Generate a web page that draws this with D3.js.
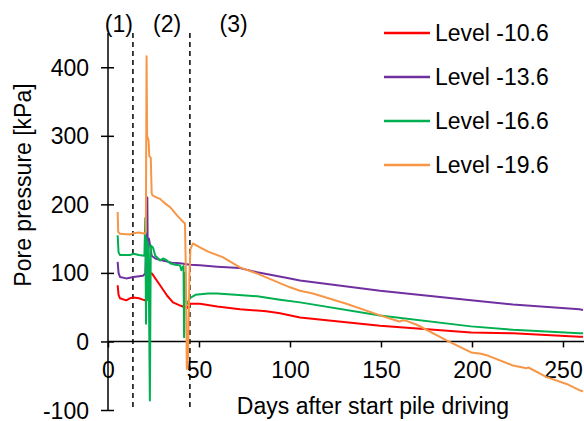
<html>
<head>
<meta charset="utf-8">
<script src='https://d3js.org/d3.v7.min.js'></script>
<style>
  body {margin: 0; background: #fff;}
  text {font-family: 'Liberation Sans', Arial, sans-serif; font-size: 23px; fill: #000;}
</style>
</head>
<body onload='init()'>
<svg width=584 height=421></svg>
<script>

// series: [days, kPa]
var level106 = [[5.3,82],[5.8,68],[6.6,63],[10,60],[12,63],[14,64],[17,63],[20.3,60],[21.2,62],[21.6,133],[22,100],[24.2,99],[28.6,82],[32.4,67],[35.7,57],[40,52],[42.3,50],[43.5,49],[45,55],[50.5,55],[60,51],[72.5,47],[87,44],[94.5,41],[105.5,35],[149.5,23],[199.5,13],[222.5,12],[259,7],[261,7]];
var level136 = [[5.3,116],[5.8,100],[6.6,94],[10,92],[14,94],[19.2,96],[20.5,99],[21.2,150],[21.6,210],[21.8,140],[22.5,150],[24,125],[26,121],[30,118],[35,115],[39.6,114],[45,112],[50.5,111],[60,109],[72.5,107],[82,101],[100,92],[105.5,89],[149.5,74],[199.5,60],[222.5,54],[259,47],[261,46]];
var level166 = [[5.3,155],[5.8,130],[6.6,126],[12,126],[14,128],[17,126],[20,125],[20.5,180],[20.9,26],[21.2,150],[21.5,60],[21.8,145],[22.3,130],[23,-86],[23.5,140],[24.7,137],[26,125],[28.6,118],[30.2,121],[32,119],[34.1,114],[37,112],[39.6,111],[40.3,104],[40.9,108],[41.5,110],[41.8,6],[42.2,100],[42.6,60],[43.5,55],[45,63],[48,68],[55,70],[60,70],[70,68],[82,66],[94.5,61],[105.5,57],[149.5,38],[199.5,22],[222.5,17],[259,12],[261,12]];
var level196 = [[5.3,189],[5.6,160],[6.6,157],[12,156],[14,158],[17,159],[20.3,157],[20.8,160],[21.2,416],[21.5,300],[22.3,293],[22.7,270],[23.5,268],[24,216],[24.5,213],[26,211],[28.6,208],[30.2,204],[32,200],[34.1,196],[36,190],[37.9,184],[40,178],[42.3,172],[42.8,100],[43.3,-40],[44,-20],[44.8,100],[45.3,135],[46.7,143],[50,138],[55,131],[63,123],[72.5,108],[82,99],[100,79],[105.5,74],[112.6,70],[131,55],[149.5,38],[160,29],[162,31],[164,30],[170,24],[186,1.5],[199.5,-16],[205,-18],[208,-20],[222.5,-35],[230,-39],[231,-38],[241,-52],[252,-62],[259,-71],[261,-73]];

var seriesNames = ['Level -10.6', 'Level -13.6', 'Level -16.6', 'Level -19.6'];
var seriesColors = ['#ff0000', '#7030a0', '#00b050', '#f79646'];
var xTicks = [0, 50, 100, 150, 200, 250];
var yTicks = [-100, 0, 100, 200, 300, 400];
var phaseLines = [13.7, 45];
var phaseLabels = [['(1)', 6], ['(2)', 32.5], ['(3)', 69]];

function init() {
	var svg = d3.select('svg');
	var x = d3.scaleLinear().domain([0, 261]).range([108, 583]);
	var y = d3.scaleLinear().domain([-100, 450]).range([410, 33]);
	var all = [level106, level136, level166, level196];
	var plain = d => String(d);

	// phase dividers
	svg.selectAll('.phase').data(phaseLines).enter().append('line')
		.attr('x1', d => x(d)).attr('x2', d => x(d))
		.attr('y1', y(450)).attr('y2', y(-100))
		.attr('stroke', '#000').attr('stroke-width', 1.5).attr('stroke-dasharray', '5,4');

	svg.selectAll('.plabel').data(phaseLabels).enter().append('text')
		.attr('x', d => x(d[1])).attr('y', 32).attr('text-anchor', 'middle')
		.text(d => d[0]);

	// y axis
	var yAxis = svg.append('g').attr('transform', 'translate(' + x(0) + ',0)')
		.call(d3.axisLeft(y).tickValues(yTicks).tickFormat(plain).tickSize(7).tickSizeOuter(0));
	yAxis.select('.domain').attr('d', 'M0,' + y(450) + 'V' + y(-100)).attr('stroke-width', 1.5);
	yAxis.selectAll('.tick line').attr('x2', 6).attr('x1', -7).attr('stroke-width', 1.5);
	yAxis.selectAll('.tick text').attr('x', -19).attr('dy', '0.35em')
		.style('font-size', '23px').style('font-family', "'Liberation Sans', Arial, sans-serif");

	// x axis at zero
	var xAxis = svg.append('g').attr('transform', 'translate(0,' + y(0) + ')')
		.call(d3.axisBottom(x).tickValues(xTicks).tickFormat(plain).tickSize(6).tickSizeOuter(0));
	xAxis.select('.domain').attr('d', 'M' + x(0) + ',0H584').attr('stroke-width', 1.5);
	xAxis.selectAll('.tick line').attr('stroke-width', 1.5);
	xAxis.selectAll('.tick text').attr('y', 37).attr('dy', 0)
		.style('font-size', '23px').style('font-family', "'Liberation Sans', Arial, sans-serif");

	// data lines
	var line = d3.line().x(d => x(d[0])).y(d => y(d[1]));
	svg.selectAll('.series').data(all).enter().append('path')
		.attr('d', line).attr('fill', 'none')
		.attr('stroke', (d, i) => seriesColors[i]).attr('stroke-width', 2)
		.attr('stroke-linejoin', 'round');

	// axis titles
	svg.append('text').attr('x', 373).attr('y', 414).attr('text-anchor', 'middle')
		.text('Days after start pile driving');
	svg.append('text').attr('transform', 'translate(31,185) rotate(-90)')
		.attr('text-anchor', 'middle').text('Pore pressure [kPa]');

	// legend
	var leg = svg.selectAll('.leg').data(seriesNames).enter().append('g')
		.attr('transform', (d, i) => 'translate(384,' + (33 + i * 44) + ')');
	leg.append('line').attr('x1', 0).attr('x2', 46).attr('y1', 0).attr('y2', 0)
		.attr('stroke', (d, i) => seriesColors[i]).attr('stroke-width', 2.5);
	leg.append('text').attr('x', 51).attr('y', 7.5).text(d => d);
}

</script>
</body>
</html>
